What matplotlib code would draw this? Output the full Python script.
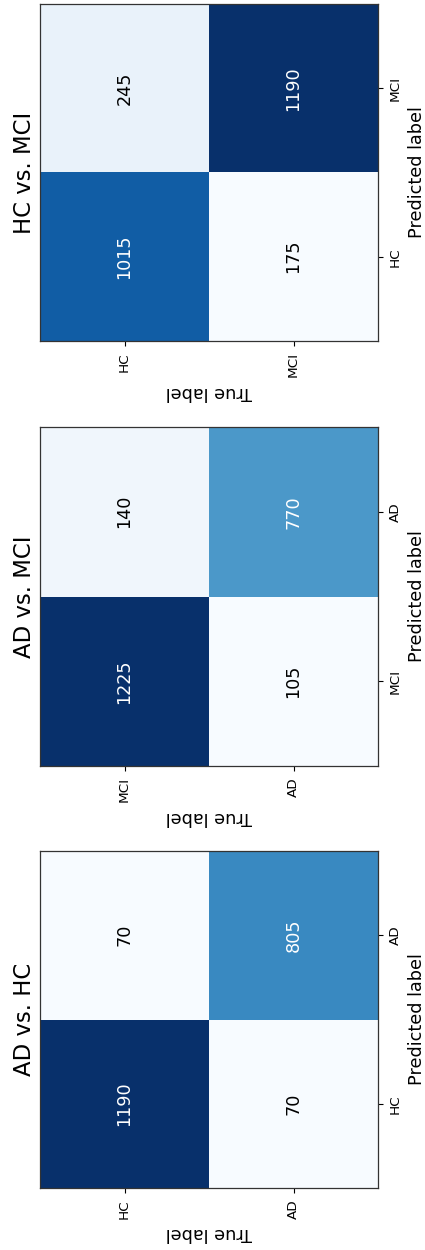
import numpy as np
import matplotlib
matplotlib.use("Agg")
import matplotlib.pyplot as plt

# Confusion matrices: rows = true label, columns = predicted label
titles = ["AD vs. HC", "AD vs. MCI", "HC vs. MCI"]
class_names = [["HC", "AD"], ["MCI", "AD"], ["HC", "MCI"]]
cm_ad_hc = [[1190, 70], [70, 805]]
cm_ad_mci = [[1225, 140], [105, 770]]
cm_hc_mci = [[1015, 245], [175, 1190]]
matrices = [cm_ad_hc, cm_ad_mci, cm_hc_mci]

W, H = 425, 1250
fig = plt.figure(figsize=(W / 100, H / 100), dpi=100)

# panel boxes in pixels (top, bottom), stacked bottom to top
left_px, right_px = 40, 378
panel_px = [(851, 1188), (427, 766), (4, 341)]

for title, names, cm, (top, bot) in zip(titles, class_names, matrices, panel_px):
    cm = np.array(cm)
    ax = fig.add_axes([left_px / W, 1 - bot / H,
                       (right_px - left_px) / W, (bot - top) / H])
    # figure is laid out turned a quarter: true label runs along x,
    # predicted label runs up the y axis
    ax.imshow(cm.T, origin="lower", cmap="Blues", aspect="auto",
              interpolation="nearest", vmin=cm.min(), vmax=cm.max())
    thresh = cm.max() / 2.0
    for i in range(2):
        for j in range(2):
            ax.text(i, j, f"{cm[i, j]}", ha="center", va="center",
                    rotation=90, fontsize=12.7,
                    color="white" if cm[i, j] > thresh else "black")

    ax.set_xticks([0, 1])
    ax.set_xticklabels(names, rotation=90, fontsize=9.7)
    ax.set_yticks([0, 1])
    ax.set_yticklabels(names, rotation=90, fontsize=9.7, va="center")
    ax.yaxis.tick_right()
    ax.yaxis.set_label_position("right")
    ax.tick_params(length=3.5, width=0.8, pad=4.5)

    ax.set_xlabel("True label", rotation=180, fontsize=12.7, labelpad=4)
    ax.set_ylabel("Predicted label", rotation=90, fontsize=12.7, labelpad=4)
    ax.text(-0.047, 0.5, title, transform=ax.transAxes, rotation=90,
            ha="center", va="center", fontsize=16.4)

    for sp in ax.spines.values():
        sp.set_color("#333333")
        sp.set_linewidth(0.9)

fig.savefig("out.png", dpi=100)
